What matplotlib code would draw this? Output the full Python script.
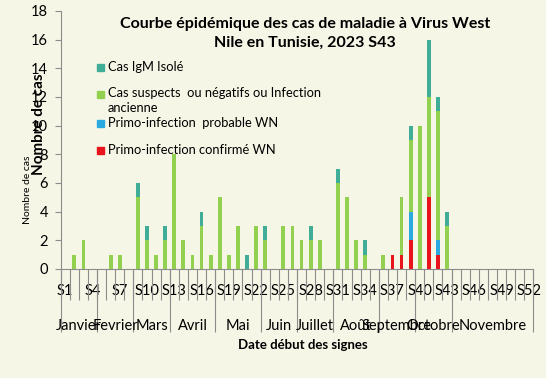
import numpy as np
import matplotlib
matplotlib.use("Agg")
import matplotlib.pyplot as plt
from matplotlib.patches import Rectangle

plt.rcParams['font.family'] = ['Lato', 'DejaVu Sans']

# semaines 1..52
weeks = np.arange(1, 53)

# nombre de cas par semaine
confirme = {37: 1, 38: 1, 39: 2, 41: 5, 42: 1}
probable = {39: 2, 42: 1}
suspects = {2: 1, 3: 2, 6: 1, 7: 1, 9: 5, 10: 2, 11: 1, 12: 2, 13: 8, 14: 2,
            15: 1, 16: 3, 17: 1, 18: 5, 19: 1, 20: 3, 22: 3, 23: 2, 25: 3,
            26: 3, 27: 2, 28: 2, 29: 2, 31: 6, 32: 5, 33: 2, 34: 1, 36: 1,
            38: 4, 39: 5, 40: 10, 41: 7, 42: 9, 43: 3}
igm_isole = {9: 1, 10: 1, 12: 1, 16: 1, 21: 1, 23: 1, 28: 1, 31: 1, 34: 1,
             39: 1, 41: 4, 42: 1, 43: 1}

# mois -> nombre de semaines
months = ["Janvier", "Fevrier", "Mars", "Avril", "Mai", "Juin", "Juillet",
          "Août", "Septembre", "Octobre", "Novembre"]
month_weeks = [4, 4, 4, 5, 5, 4, 4, 5, 4, 4, 9]

series = [
    ("Primo-infection confirmé WN", confirme, "#e8141b"),
    ("Primo-infection  probable WN", probable, "#2aa8e0"),
    ("Cas suspects  ou négatifs ou Infection\nancienne", suspects, "#92d050"),
    ("Cas IgM Isolé", igm_isole, "#40ad98"),
]

BG = "#f6f6e6"
AXC = "#8c8c8c"

fig = plt.figure(figsize=(5.46, 3.78), dpi=100, facecolor=BG)
W, H = 546, 378
ax = fig.add_axes([60.7 / W, 1 - 269 / H, (533.3 - 60.7) / W, (269 - 11) / H])
ax.set_facecolor(BG)

bottom = np.zeros(len(weeks))
for label, data, color in series:
    vals = np.array([data.get(w, 0) for w in weeks], dtype=float)
    ax.bar(weeks, vals, width=0.42, bottom=bottom, color=color, label=label)
    bottom += vals

ax.set_xlim(0.5, 52.5)
ax.set_ylim(0, 18)
ax.set_yticks(np.arange(0, 19, 2))
ax.tick_params(axis="y", length=4, color=AXC, labelsize=10.5, pad=5)

for s in ["top", "right"]:
    ax.spines[s].set_visible(False)
for s in ["left", "bottom"]:
    ax.spines[s].set_color(AXC)

# niveau 1 : étiquettes des semaines + séparateurs courts
ax.set_xticks(weeks[::3], [f"S{w}" for w in weeks[::3]])
ax.set_xticks(np.arange(0.5, 53, 1), minor=True)
ax.tick_params(axis="x", which="major", length=0, labelsize=10.5, pad=11)
ax.tick_params(axis="x", which="minor", length=22, color=AXC, width=0.8)

# niveau 2 : mois
edges = np.concatenate([[0.5], 0.5 + np.cumsum(month_weeks)])
centers = (edges[:-1] + edges[1:]) / 2
sec = ax.secondary_xaxis("bottom")
sec.set_xticks(edges, [""] * len(edges))
sec.tick_params(length=45, color=AXC, width=0.8)
sec.spines["bottom"].set_visible(False)
sec2 = ax.secondary_xaxis("bottom")
sec2.set_xticks(centers, months)
sec2.tick_params(length=0, labelsize=10.5, pad=36)
sec2.spines["bottom"].set_visible(False)

fig.text(303 / W, 1 - 345 / H, "Date début des signes", ha="center",
         va="center", fontsize=9.5, fontweight="bold")

# titre
fig.text(305 / W, 1 - 33 / H,
         "Courbe épidémique des cas de maladie à Virus West\nNile en Tunisie, 2023 S43",
         ha="center", va="center", fontsize=11.5, fontweight="bold",
         linespacing=1.45)

# libellés de l'axe Y (deux, superposés comme dans l'original)
fig.text(28 / W, 1 - 190 / H, "Nombre de cas", rotation=90, ha="center",
         va="center", fontsize=7.5)
fig.text(39 / W, 1 - 124 / H, "Nombre de cas", rotation=90, ha="center",
         va="center", fontsize=11, fontweight="bold")

# légende (ordre inverse de l'empilement)
leg_y = [67, 94, 123, 150]
for (label, _, color), y in zip(series[::-1], leg_y):
    fig.patches.append(Rectangle((97 / W, 1 - (y + 3.5) / H), 7 / W, 7 / H,
                                 transform=fig.transFigure, color=color))
    if "\n" in label:
        fig.text(108 / W, 1 - (y - 7) / H, label, ha="left", va="top",
                 fontsize=9.3, linespacing=1.35)
    else:
        fig.text(108 / W, 1 - y / H, label, ha="left", va="center",
                 fontsize=9.3)

fig.savefig("out.png", dpi=100, facecolor=BG)
